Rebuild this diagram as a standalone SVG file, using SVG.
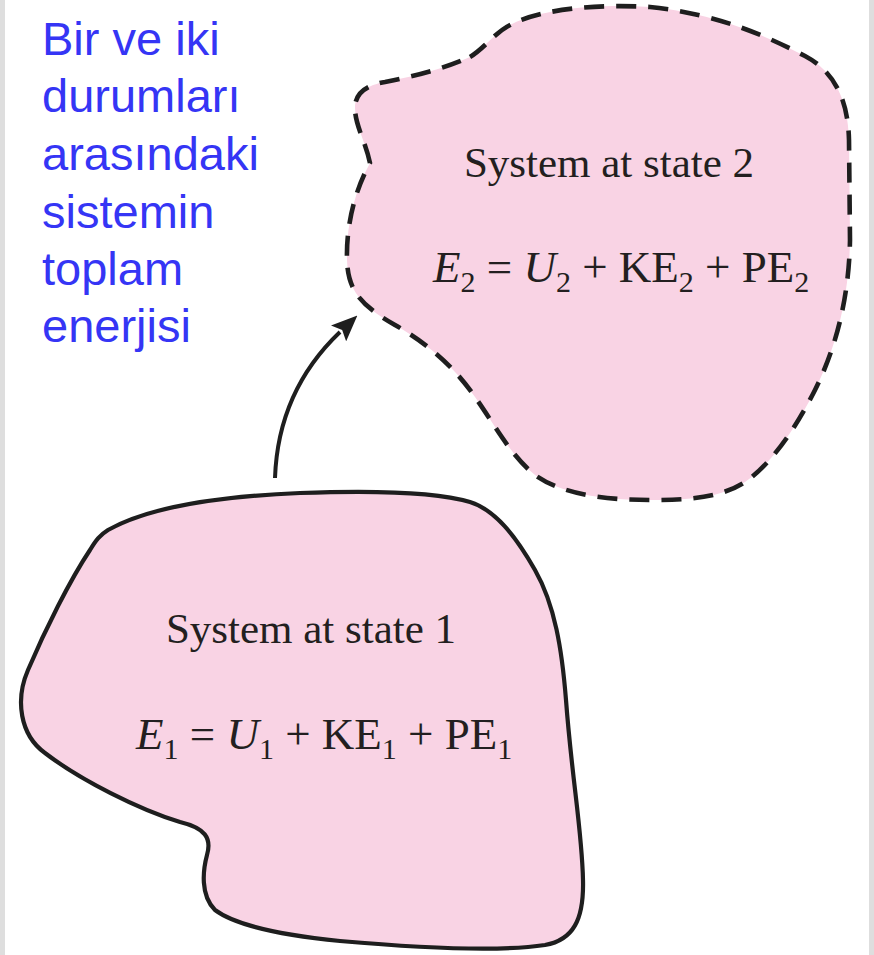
<svg xmlns="http://www.w3.org/2000/svg" width="874" height="955" viewBox="0 0 874 955">
<style>
.blob{fill:#f9d3e4;stroke:#1e1e1e;stroke-width:4.2;stroke-linejoin:round}
.dash{stroke-dasharray:20 12;stroke-width:4.6}
.lbl{font-family:"Liberation Sans",Arial,sans-serif;font-size:47px;fill:#3535f5}
.ttl{font-family:"Liberation Serif","Times New Roman",serif;font-size:43px;fill:#231f20;text-anchor:middle}
.f{font-family:"Liberation Serif","Times New Roman",serif;font-size:45px;fill:#231f20}
.sub{font-size:30px}
.it{font-style:italic}
</style>
<defs>
<marker id="ah" markerUnits="userSpaceOnUse" markerWidth="26" markerHeight="22" viewBox="0 0 26 22" refX="2" refY="11" orient="auto">
<path d="M0,0 L26,11 L0,22 L5,11 Z" fill="#1e1e1e"/>
</marker>
</defs>
<rect x="0" y="0" width="5" height="955" fill="#dedede"/>
<rect x="869" y="0" width="5" height="955" fill="#dedede"/>
<g id="caption">
<text class="lbl" x="42" y="55">Bir ve iki</text>
<text class="lbl" x="42" y="112">durumları</text>
<text class="lbl" x="42" y="170">arasındaki</text>
<text class="lbl" x="42" y="228">sistemin</text>
<text class="lbl" x="42" y="285">toplam</text>
<text class="lbl" x="42" y="342">enerjisi</text>
</g>
<g id="state2">
<path class="blob dash" d="M470,57 C485,48 495,32 512,24 C545,8 600,4 650,7 C720,14 770,38 805,56 C835,72 848,100 849,140 L850,240 C849,300 835,350 815,390 C795,430 770,465 745,482 C720,498 690,500 650,500 C600,500 560,493 535,475 C510,455 495,425 475,397 C455,368 430,345 395,325 C360,305 348,290 347,260 C346,225 355,190 370,163 C365,140 355,125 355,108 C355,92 368,85 385,82 C420,75 445,68 470,57 Z"/>
<text class="ttl" x="609" y="177">System at state 2</text>
<text class="f" x="433" y="282"><tspan class="it">E</tspan><tspan class="sub" dy="10">2</tspan><tspan dy="-10"> = </tspan><tspan class="it">U</tspan><tspan class="sub" dy="10">2</tspan><tspan dy="-10"> + KE</tspan><tspan class="sub" dy="10">2</tspan><tspan dy="-10"> + PE</tspan><tspan class="sub" dy="10">2</tspan></text>
</g>
<g id="state1">
<path class="blob" d="M108,530 C140,512 200,497 300,493 C380,490 440,493 470,502 C495,510 515,535 535,570 C555,605 562,650 566,700 C572,780 582,830 583,880 C584,920 573,940 545,945 C500,952 420,948 340,941 C280,935 235,925 215,910 C200,895 203,870 207,855 C212,838 205,828 180,822 C140,810 80,780 45,753 C20,735 15,700 28,670 C45,630 70,580 90,550 C96,540 100,535 108,530 Z"/>
<text class="ttl" x="311" y="643">System at state 1</text>
<text class="f" x="136" y="749"><tspan class="it">E</tspan><tspan class="sub" dy="10">1</tspan><tspan dy="-10"> = </tspan><tspan class="it">U</tspan><tspan class="sub" dy="10">1</tspan><tspan dy="-10"> + KE</tspan><tspan class="sub" dy="10">1</tspan><tspan dy="-10"> + PE</tspan><tspan class="sub" dy="10">1</tspan></text>
</g>
<g id="connectors">
<path d="M275,478 C277,420 298,372 340,332" fill="none" stroke="#1e1e1e" stroke-width="4" marker-end="url(#ah)"/>
</g>
</svg>
